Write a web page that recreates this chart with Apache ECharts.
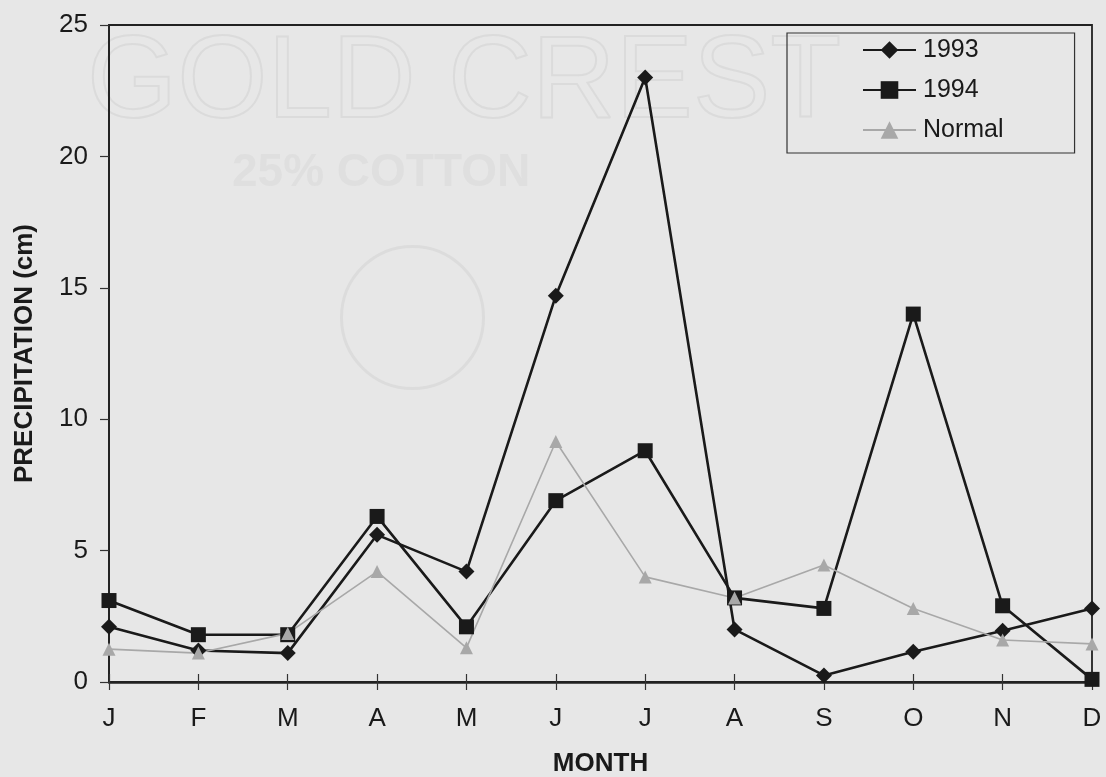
<!DOCTYPE html>
<html>
<head>
<meta charset="utf-8">
<script src="https://cdn.jsdelivr.net/npm/echarts@6/dist/echarts.min.js"></script>
<style>
html,body{margin:0;padding:0;background:#e8e8e8;}
#chart{width:1106px;height:777px;}
</style>
</head>
<body>
<div id="chart"></div>
<script>
const months = ['J','F','M','A','M','J','J','A','S','O','N','D'];
const y1993 = [2.1, 1.2, 1.1, 5.6, 4.2, 14.7, 23.0, 2.0, 0.25, 1.15, 1.95, 2.8];
const y1994 = [3.1, 1.8, 1.8, 6.3, 2.1, 6.9, 8.8, 3.2, 2.8, 14.0, 2.9, 0.1];
const yNormal = [1.25, 1.1, 1.85, 4.2, 1.3, 9.15, 4.0, 3.2, 4.45, 2.8, 1.6, 1.45];
const yTicks = [0, 5, 10, 15, 20, 25];

const chart = echarts.init(document.getElementById('chart'));
const font = 'Liberation Sans, Arial, sans-serif';
chart.setOption({
  backgroundColor: '#e7e7e7',
  animation: false,
  textStyle: { fontFamily: font },
  graphic: [
    { type: 'text', left: 86, top: 26, silent: true, z: -10,
      style: { text: 'GOLD CREST', fontSize: 116, fontFamily: font, fill: 'rgba(0,0,0,0)', stroke: '#dbdbdb', lineWidth: 2 } },
    { type: 'text', left: 232, top: 150, silent: true, z: -10,
      style: { text: '25% COTTON', fontSize: 46, fontWeight: 'bold', fontFamily: font, fill: '#dfdfdf' } },
    { type: 'circle', left: 340, top: 245, silent: true, z: -10,
      shape: { r: 71 }, style: { fill: 'rgba(0,0,0,0)', stroke: '#dcdcdc', lineWidth: 3 } }
  ],
  grid: {
    left: 109, right: 14, top: 25, bottom: 95,
    containLabel: false, outerBoundsMode: 'none',
    show: true, borderColor: '#222', borderWidth: 1.8, backgroundColor: 'transparent'
  },
  legend: {
    orient: 'vertical',
    left: 787, top: 33,
    padding: [4, 71, 10, 75],
    borderColor: '#333', borderWidth: 1.2,
    itemWidth: 53, itemHeight: 22, itemGap: 14,
    textStyle: { fontSize: 25, color: '#1a1a1a', fontFamily: font, lineHeight: 26, padding: [0, 0, 0, 2] },
    data: ['1993', '1994', 'Normal']
  },
  xAxis: [
    {
      type: 'category', data: months, boundaryGap: false, position: 'bottom',
      name: 'MONTH', nameLocation: 'middle', nameGap: 69, nameMoveOverlap: false,
      nameTextStyle: { fontSize: 26, fontWeight: 'bold', color: '#1a1a1a', fontFamily: font },
      axisLine: { lineStyle: { color: '#222', width: 2.5 } },
      axisTick: { show: true, inside: false, length: 8, alignWithLabel: true, lineStyle: { color: '#333', width: 1.2 } },
      axisLabel: { fontSize: 26, color: '#1a1a1a', margin: 24, fontFamily: font },
      splitLine: { show: false }
    },
    {
      type: 'category', data: months, boundaryGap: false, position: 'bottom',
      axisLine: { show: false },
      axisTick: { show: true, inside: true, length: 8, lineStyle: { color: '#333', width: 1.2 } },
      axisLabel: { show: false },
      splitLine: { show: false }
    }
  ],
  yAxis: {
    type: 'value', min: yTicks[0], max: yTicks[yTicks.length - 1], interval: 5,
    name: 'PRECIPITATION (cm)', nameLocation: 'middle', nameGap: 71, nameRotate: 90,
    nameTextStyle: { fontSize: 26, fontWeight: 'bold', color: '#1a1a1a', fontFamily: font },
    axisLine: { show: true, lineStyle: { color: '#222', width: 1.8 } },
    axisTick: { show: true, inside: false, length: 9, lineStyle: { color: '#333', width: 1.2 } },
    axisLabel: { fontSize: 26, color: '#1a1a1a', margin: 21, fontFamily: font },
    splitLine: { show: false }
  },
  series: [
    {
      name: '1993', type: 'line', data: y1993,
      symbol: 'diamond', symbolSize: 16,
      lineStyle: { color: '#1a1a1a', width: 2.6 },
      itemStyle: { color: '#1a1a1a' }
    },
    {
      name: '1994', type: 'line', data: y1994,
      symbol: 'rect', symbolSize: 15,
      lineStyle: { color: '#1a1a1a', width: 2.6 },
      itemStyle: { color: '#1a1a1a' }
    },
    {
      name: 'Normal', type: 'line', data: yNormal,
      symbol: 'triangle', symbolSize: 13,
      lineStyle: { color: '#a8a8a8', width: 1.6 },
      itemStyle: { color: '#a8a8a8' }
    }
  ]
});
</script>
</body>
</html>
